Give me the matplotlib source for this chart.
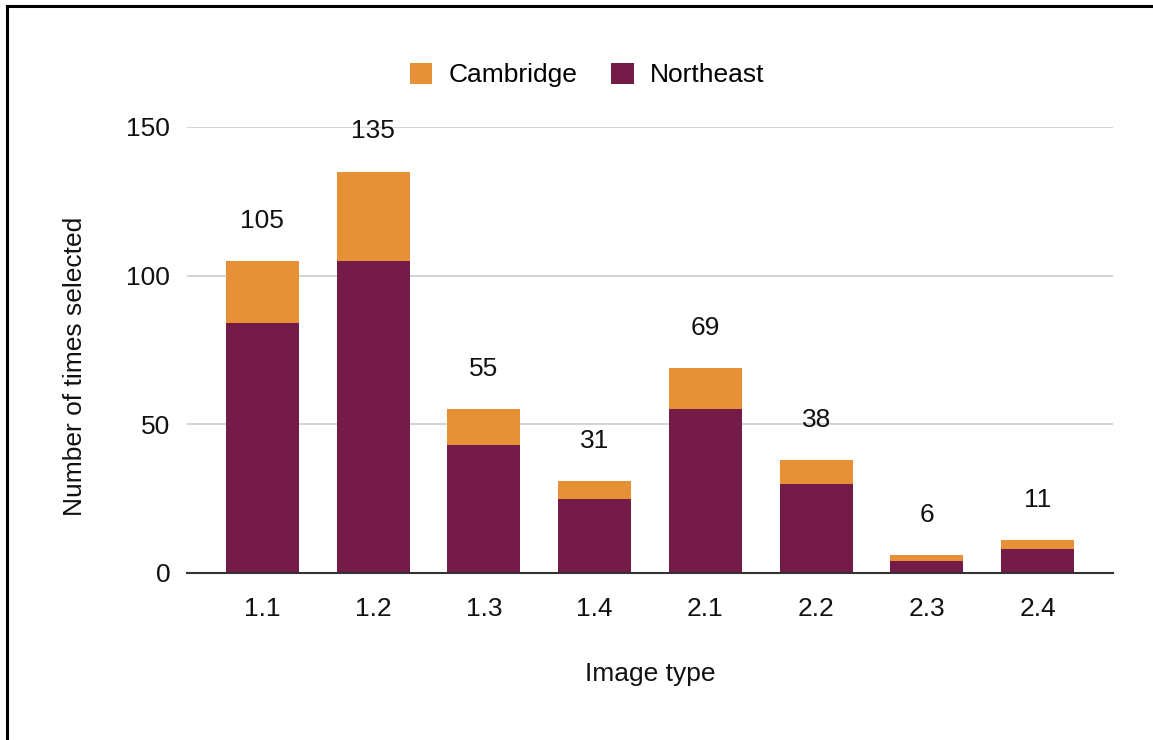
import matplotlib.pyplot as plt
from matplotlib.lines import Line2D
from matplotlib.patches import Patch

categories = ["1.1", "1.2", "1.3", "1.4", "2.1", "2.2", "2.3", "2.4"]
northeast = [84, 105, 43, 25, 55, 30, 4, 8]
cambridge = [21, 30, 12, 6, 14, 8, 2, 3]
totals = [n + c for n, c in zip(northeast, cambridge)]

ORANGE = "#E69138"
MAROON = "#741B47"
FS = 19

plt.rcParams["font.family"] = ["Liberation Sans", "DejaVu Sans"]

fig = plt.figure(figsize=(11.53, 7.40), dpi=100)
ax = fig.add_axes([0.1622, 0.2257, 0.8031, 0.6027])

x = list(range(len(categories)))
width = 0.66
ax.bar(x, northeast, width=width, color=MAROON, zorder=3)
ax.bar(x, cambridge, width=width, bottom=northeast, color=ORANGE, zorder=3)

for xi, t in zip(x, totals):
    ax.annotate(str(t), (xi, t), xytext=(0, 29), textcoords="offset points",
                ha="center", va="center", fontsize=FS, color="#111111",
                annotation_clip=False)

ax.set_xlim(-0.68, len(categories) - 1 + 0.68)
ax.set_ylim(0, 150)
ax.set_yticks([0, 50, 100, 150])
ax.set_xticks(x)
ax.set_xticklabels(categories)
ax.tick_params(axis="both", length=0, labelsize=FS, colors="#111111")
ax.tick_params(axis="y", pad=12)
ax.tick_params(axis="x", pad=17)
ax.grid(axis="y", color="#cccccc", linewidth=1.2, zorder=0)
for s in ["top", "right", "left"]:
    ax.spines[s].set_visible(False)
ax.spines["bottom"].set_color("#333333")
ax.spines["bottom"].set_linewidth(1.5)
ax.spines["bottom"].set_zorder(4)

ax.set_xlabel("Image type", fontsize=FS, color="#111111", labelpad=30)
ax.set_ylabel("Number of times selected", fontsize=FS, color="#111111")
ax.yaxis.set_label_coords(-0.108, 0.464)

handles = [Patch(facecolor=ORANGE, label="Cambridge"),
           Patch(facecolor=MAROON, label="Northeast")]
fig.legend(handles=handles, loc="center", bbox_to_anchor=(587 / 1153, 1 - 75 / 740),
           ncol=2, frameon=False, fontsize=FS, handlelength=0.85, handleheight=0.85,
           handletextpad=0.6, columnspacing=1.3)

# outer frame: top and left edges
x0 = 7 / 1153
y0 = 1 - 6 / 740
fig.add_artist(Line2D([x0, 1.0], [y0, y0], transform=fig.transFigure,
                      color="black", linewidth=2.2))
fig.add_artist(Line2D([x0, x0], [0.0, y0], transform=fig.transFigure,
                      color="black", linewidth=2.2))

fig.savefig("out.png", dpi=100, facecolor="white")
